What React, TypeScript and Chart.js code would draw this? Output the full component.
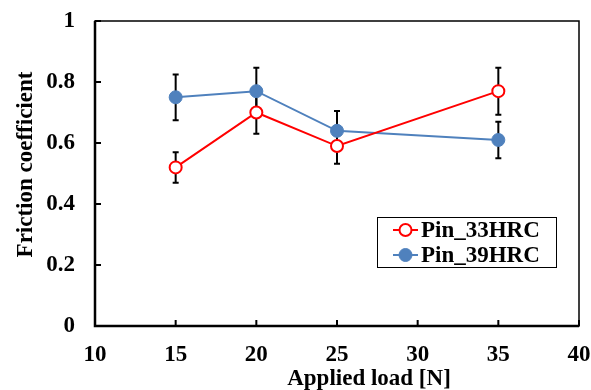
import React, { useEffect, useRef } from "react";
import { Chart, registerables } from "chart.js";

Chart.register(...registerables);

const loads = [15, 20, 25, 35];
const hrc33 = [0.52, 0.70, 0.59, 0.77];
const hrc33Err = [0.05, 0.07, 0.058, 0.077];
const hrc39 = [0.75, 0.77, 0.64, 0.61];
const hrc39Err = [0.075, 0.077, 0.065, 0.06];
const seriesNames = ["Pin_33HRC", "Pin_39HRC"];
const xTitle = "Applied load [N]";
const yTitle = "Friction coefficient";

const FONT = "'Liberation Serif', 'Times New Roman', serif";
const RED = "#FF0000";
const BLUE = "#4F81BD";

const errors = [hrc33Err, hrc39Err];

const customPlugin = {
  id: "custom",
  beforeDatasetsDraw(chart: any) {
    const ctx = chart.ctx;
    const xs = chart.scales.x;
    const ys = chart.scales.y;
    const { left, right, top, bottom } = chart.chartArea;
    ctx.save();
    // frame
    ctx.strokeStyle = "#000";
    ctx.lineWidth = 1.5;
    ctx.strokeRect(left, top, right - left, bottom - top);
    ctx.lineWidth = 2.5;
    ctx.beginPath();
    ctx.moveTo(left, top);
    ctx.lineTo(left, bottom);
    ctx.lineTo(right, bottom);
    ctx.stroke();
    // inside ticks
    ctx.lineWidth = 2;
    ctx.beginPath();
    ys.ticks.forEach((t: any) => {
      const y = ys.getPixelForValue(t.value);
      ctx.moveTo(left, y);
      ctx.lineTo(left + 6, y);
    });
    xs.ticks.forEach((t: any) => {
      const x = xs.getPixelForValue(t.value);
      ctx.moveTo(x, bottom);
      ctx.lineTo(x, bottom - 6);
    });
    ctx.stroke();
    // error bars
    ctx.lineWidth = 2;
    chart.data.datasets.forEach((ds: any, di: number) => {
      ds.data.forEach((p: any, i: number) => {
        const e = errors[di][i];
        const x = xs.getPixelForValue(p.x);
        const y1 = ys.getPixelForValue(p.y + e);
        const y2 = ys.getPixelForValue(p.y - e);
        ctx.beginPath();
        ctx.moveTo(x, y1);
        ctx.lineTo(x, y2);
        ctx.moveTo(x - 3, y1);
        ctx.lineTo(x + 3, y1);
        ctx.moveTo(x - 3, y2);
        ctx.lineTo(x + 3, y2);
        ctx.stroke();
      });
    });
    ctx.restore();
  },
  afterDraw(chart: any) {
    const ctx = chart.ctx;
    ctx.save();
    // axis titles
    ctx.fillStyle = "#000";
    ctx.font = `bold 23px ${FONT}`;
    ctx.textAlign = "center";
    ctx.textBaseline = "alphabetic";
    ctx.fillText(xTitle, 369, 385);
    ctx.save();
    ctx.translate(32, 164.5);
    ctx.rotate(-Math.PI / 2);
    ctx.fillText(yTitle, 0, 0);
    ctx.restore();
    // legend
    const bx = 377, by = 217, bw = 179, bh = 50;
    ctx.fillStyle = "#fff";
    ctx.fillRect(bx, by, bw, bh);
    ctx.strokeStyle = "#000";
    ctx.lineWidth = 1;
    ctx.strokeRect(bx + 0.5, by + 0.5, bw, bh);
    const rows = [by + 13, by + 38];
    chart.data.datasets.forEach((ds: any, i: number) => {
      const y = rows[i];
      ctx.strokeStyle = ds.borderColor;
      ctx.lineWidth = 2;
      ctx.beginPath();
      ctx.moveTo(393, y);
      ctx.lineTo(418, y);
      ctx.stroke();
      ctx.beginPath();
      ctx.arc(405.5, y, ds.pointRadius, 0, Math.PI * 2);
      ctx.fillStyle = ds.pointBackgroundColor;
      ctx.fill();
      ctx.lineWidth = ds.pointBorderWidth;
      ctx.strokeStyle = ds.pointBorderColor;
      ctx.stroke();
      ctx.fillStyle = "#000";
      ctx.font = `bold 23px ${FONT}`;
      ctx.textBaseline = "middle";
      ctx.textAlign = "left";
      ctx.fillText(ds.label, 421, y + 1);
    });
    ctx.restore();
  },
};

export default function App() {
  const ref = useRef<HTMLCanvasElement>(null);
  useEffect(() => {
    if (!ref.current) return;
    const chart = new Chart(ref.current, {
      type: "line",
      data: {
        datasets: [
          {
            label: seriesNames[0],
            data: loads.map((x, i) => ({ x, y: hrc33[i] })),
            borderColor: RED,
            borderWidth: 2,
            pointRadius: 6,
            pointBorderWidth: 2,
            pointBackgroundColor: "#fff",
            pointBorderColor: RED,
          },
          {
            label: seriesNames[1],
            data: loads.map((x, i) => ({ x, y: hrc39[i] })),
            borderColor: BLUE,
            borderWidth: 2,
            pointRadius: 6.5,
            pointBorderWidth: 1,
            pointBackgroundColor: BLUE,
            pointBorderColor: BLUE,
          },
        ],
      },
      options: {
        animation: false,
        responsive: false,
        layout: { padding: { top: 21, right: 12, left: 0, bottom: 0 } },
        plugins: { legend: { display: false }, tooltip: { enabled: false } },
        scales: {
          x: {
            type: "linear",
            min: 10,
            max: 40,
            grid: { display: false, drawTicks: false },
            border: { display: false },
            ticks: {
              stepSize: 5,
              padding: 15,
              color: "#000",
              font: { family: FONT, size: 23, weight: "bold" },
            },
            title: { display: false },
            afterFit: (s: any) => {
              s.height = 64;
              s.paddingLeft = 0;
              s.paddingRight = 0;
            },
          },
          y: {
            min: 0,
            max: 1,
            grid: { display: false, drawTicks: false },
            border: { display: false },
            ticks: {
              stepSize: 0.2,
              padding: 20,
              color: "#000",
              font: { family: FONT, size: 23, weight: "bold" },
              callback: (v: any) => (v === 0 || v === 1 ? String(v) : Number(v).toFixed(1)),
            },
            title: { display: false },
            afterFit: (s: any) => {
              s.width = 95;
              s.paddingTop = 0;
              s.paddingBottom = 0;
            },
          },
        },
      },
      plugins: [customPlugin],
    } as any);
    return () => chart.destroy();
  }, []);
  return (
    <div style={{ position: "fixed", left: 0, top: 0, width: 591, height: 390, background: "#fff" }}>
      <canvas ref={ref} width={591} height={390} style={{ width: 591, height: 390, display: "block" }} />
    </div>
  );
}
